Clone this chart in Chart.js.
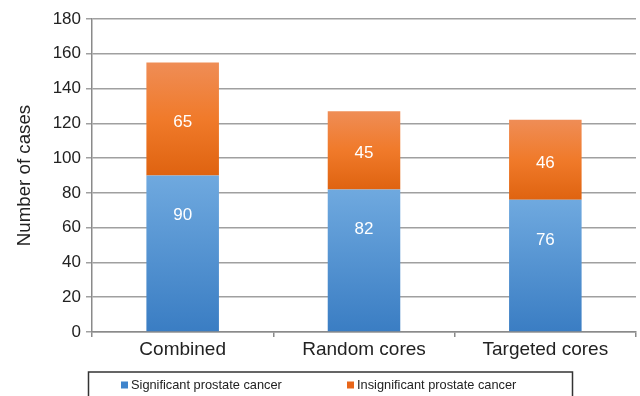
<!DOCTYPE html>
<html>
<head>
<meta charset="utf-8">
<script src="https://cdn.jsdelivr.net/npm/chart.js@4/dist/chart.umd.min.js"></script>
<style>
  html, body { margin: 0; padding: 0; background: #fff; }
  #wrap { width: 640px; height: 396px; position: relative; }
</style>
</head>
<body>
<div id="wrap"><canvas id="c" width="640" height="396"></canvas></div>
<script>
const categories = ['Combined', 'Random cores', 'Targeted cores'];
const significant = [90, 82, 76];
const insignificant = [65, 45, 46];
const seriesNames = ['Significant prostate cancer', 'Insignificant prostate cancer'];
const yTicks = [0, 20, 40, 60, 80, 100, 120, 140, 160, 180];

const FONT = '"Liberation Sans", Arial, Helvetica, sans-serif';
const gradStops = [
  ['#6fa9df', '#3a7dc3'],   // blue: top, bottom
  ['#ef8d56', '#f07a2a', '#df6310']    // orange: top, middle, bottom
];
const legendSwatch = ['#3f84cc', '#e8661a'];

// Each bar segment gets its own vertical gradient spanning its own height
function segmentFill(ctx) {
  const chart = ctx.chart;
  const ds = ctx.datasetIndex;
  const i = ctx.dataIndex;
  const y = chart.scales && chart.scales.y;
  const stops = gradStops[ds];
  if (!chart.chartArea || !y || i === undefined) return stops[stops.length - 1];
  let base = 0;
  for (let k = 0; k < ds; k++) base += chart.data.datasets[k].data[i];
  const top = base + chart.data.datasets[ds].data[i];
  const y0 = y.getPixelForValue(base);
  const y1 = y.getPixelForValue(top);
  const g = chart.ctx.createLinearGradient(0, y1, 0, y0);
  stops.forEach((s, k) => g.addColorStop(k / (stops.length - 1), s));
  return g;
}

// White value labels inside each segment
const valueLabels = {
  id: 'valueLabels',
  afterDatasetsDraw(chart) {
    const c = chart.ctx;
    c.save();
    c.fillStyle = '#ffffff';
    c.font = '17px ' + FONT;
    c.textAlign = 'center';
    c.textBaseline = 'middle';
    chart.data.datasets.forEach((d, ds) => {
      chart.getDatasetMeta(ds).data.forEach((el, i) => {
        const yPos = ds === 0 ? el.y + 40 : (el.y + el.base) / 2 + 3;
        c.fillText(String(d.data[i]), el.x, yPos);
      });
    });
    c.restore();
  }
};

// Boxed legend along the bottom edge
const boxedLegend = {
  id: 'boxedLegend',
  afterDraw(chart) {
    const c = chart.ctx;
    c.save();
    c.strokeStyle = '#333333';
    c.lineWidth = 1.5;
    c.strokeRect(88.5, 372, 484, 40);
    c.font = '12.8px ' + FONT;
    c.textBaseline = 'middle';
    const items = [[121, 131], [347, 357]];
    chart.data.datasets.forEach((d, ds) => {
      const [sx, tx] = items[ds];
      c.fillStyle = legendSwatch[ds];
      c.fillRect(sx, 381.5, 7, 7);
      c.fillStyle = '#222222';
      c.fillText(d.label, tx, 385);
    });
    c.restore();
  }
};

new Chart(document.getElementById('c'), {
  type: 'bar',
  data: {
    labels: categories,
    datasets: [
      { label: seriesNames[0], data: significant, backgroundColor: segmentFill, borderWidth: 0 },
      { label: seriesNames[1], data: insignificant, backgroundColor: segmentFill, borderWidth: 0 }
    ]
  },
  options: {
    responsive: false,
    animation: false,
    devicePixelRatio: 1,
    layout: { padding: { left: 0, right: 4, top: 19, bottom: 34 } },
    datasets: { bar: { categoryPercentage: 1, barPercentage: 0.4 } },
    plugins: { legend: { display: false }, tooltip: { enabled: false } },
    scales: {
      x: {
        stacked: true,
        afterFit(s) { s.height = 30; },
        grid: { display: true, drawOnChartArea: false, drawTicks: true, tickLength: 5,
                color: '#8a8a8a', lineWidth: 1.5, offset: true },
        border: { display: true, color: '#8a8a8a', width: 1.5 },
        ticks: { color: '#222222', font: { family: FONT, size: 19 }, padding: 1, maxRotation: 0 }
      },
      y: {
        stacked: true,
        min: 0,
        max: 180,
        afterFit(s) { s.width = 92; },
        afterBuildTicks(s) { s.ticks = yTicks.map(v => ({ value: v })); },
        grid: { color: '#a0a0a0', lineWidth: 1.5, drawTicks: true, tickLength: 6 },
        border: { display: true, color: '#8a8a8a', width: 1.5 },
        ticks: { color: '#222222', font: { family: FONT, size: 17 }, padding: 5 },
        title: { display: true, text: 'Number of cases', color: '#222222',
                 font: { family: FONT, size: 18.7 }, padding: { top: 14, bottom: 0 } }
      }
    }
  },
  plugins: [valueLabels, boxedLegend]
});
</script>
</body>
</html>
